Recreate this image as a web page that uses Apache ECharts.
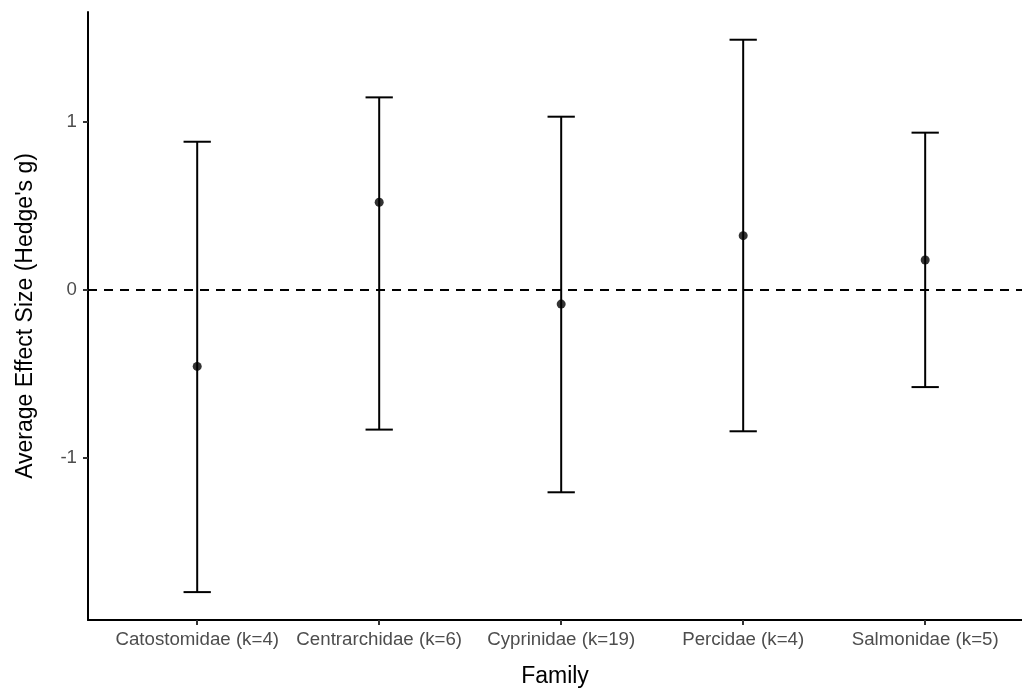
<!DOCTYPE html>
<html>
<head>
<meta charset="utf-8">
<script src="https://cdn.jsdelivr.net/npm/echarts@6/dist/echarts.min.js"></script>
<style>
html,body{margin:0;padding:0;background:#fff;}
#chart{width:1022px;height:688px;}
</style>
</head>
<body>
<div id="chart"></div>
<script>
var categories = ['Catostomidae (k=4)', 'Centrarchidae (k=6)', 'Cyprinidae (k=19)', 'Percidae (k=4)', 'Salmonidae (k=5)'];
var means = [-0.457, 0.520, -0.086, 0.321, 0.176];
var lower = [-1.800, -0.833, -1.206, -0.843, -0.580];
var upper = [0.880, 1.144, 1.029, 1.487, 0.934];
var yTicks = [-1, 0, 1];

var positions = categories.map(function (c, i) { return i + 1; });
var errData = categories.map(function (c, i) { return [positions[i], lower[i], upper[i]]; });
var ptData = categories.map(function (c, i) { return [positions[i], means[i]]; });

var FONT = "'Liberation Sans', Arial, sans-serif";
var chart = echarts.init(document.getElementById('chart'));
chart.setOption({
  backgroundColor: '#fff',
  animation: false,
  grid: { left: 88, right: 0, top: 12, bottom: 68, containLabel: false, outerBoundsMode: 'none' },
  xAxis: {
    type: 'value',
    min: 0.4,
    max: 5.532,
    name: 'Family',
    nameLocation: 'middle',
    nameGap: 45,
    nameTextStyle: { fontFamily: FONT, fontSize: 23, color: '#000', lineHeight: 23 },
    axisLine: { show: true, onZero: false, lineStyle: { color: '#000', width: 2 } },
    axisTick: { show: true, length: 5, lineStyle: { color: '#333', width: 2 }, customValues: positions },
    axisLabel: {
      customValues: positions,
      formatter: function (v) { return categories[Math.round(v) - 1] || ''; },
      fontFamily: FONT, fontSize: 18.7, color: '#4d4d4d', margin: 10, lineHeight: 19
    },
    splitLine: { show: false }
  },
  yAxis: {
    type: 'value',
    min: -1.966,
    max: 1.652,
    name: "Average Effect Size (Hedge's g)",
    nameLocation: 'middle',
    nameGap: 51,
    nameTextStyle: { fontFamily: FONT, fontSize: 23, color: '#000', lineHeight: 23 },
    axisLine: { show: true, onZero: false, lineStyle: { color: '#000', width: 2 } },
    axisTick: { show: true, length: 5, lineStyle: { color: '#333', width: 2 }, customValues: yTicks },
    axisLabel: {
      customValues: yTicks,
      fontFamily: FONT, fontSize: 18.7, color: '#4d4d4d', margin: 11
    },
    splitLine: { show: false }
  },
  series: [
    {
      type: 'custom',
      data: errData,
      clip: false,
      renderItem: function (params, api) {
        var x = api.value(0);
        var lo = api.coord([x, api.value(1)]);
        var hi = api.coord([x, api.value(2)]);
        var half = api.size([0.15, 0])[0] / 2;
        var style = { stroke: '#000', lineWidth: 2 };
        return {
          type: 'group',
          children: [
            { type: 'line', shape: { x1: lo[0], y1: lo[1], x2: hi[0], y2: hi[1] }, style: style },
            { type: 'line', shape: { x1: lo[0] - half, y1: lo[1], x2: lo[0] + half, y2: lo[1] }, style: style },
            { type: 'line', shape: { x1: hi[0] - half, y1: hi[1], x2: hi[0] + half, y2: hi[1] }, style: style }
          ]
        };
      },
      markLine: {
        silent: true,
        symbol: ['none', 'none'],
        label: { show: false },
        lineStyle: { color: '#000', width: 2, type: [9, 7] },
        data: [{ yAxis: 0 }]
      },
      z: 2
    },
    {
      type: 'scatter',
      data: ptData,
      symbol: 'circle',
      symbolSize: 9,
      itemStyle: { color: '#000' },
      z: 3
    }
  ]
});
</script>
</body>
</html>
